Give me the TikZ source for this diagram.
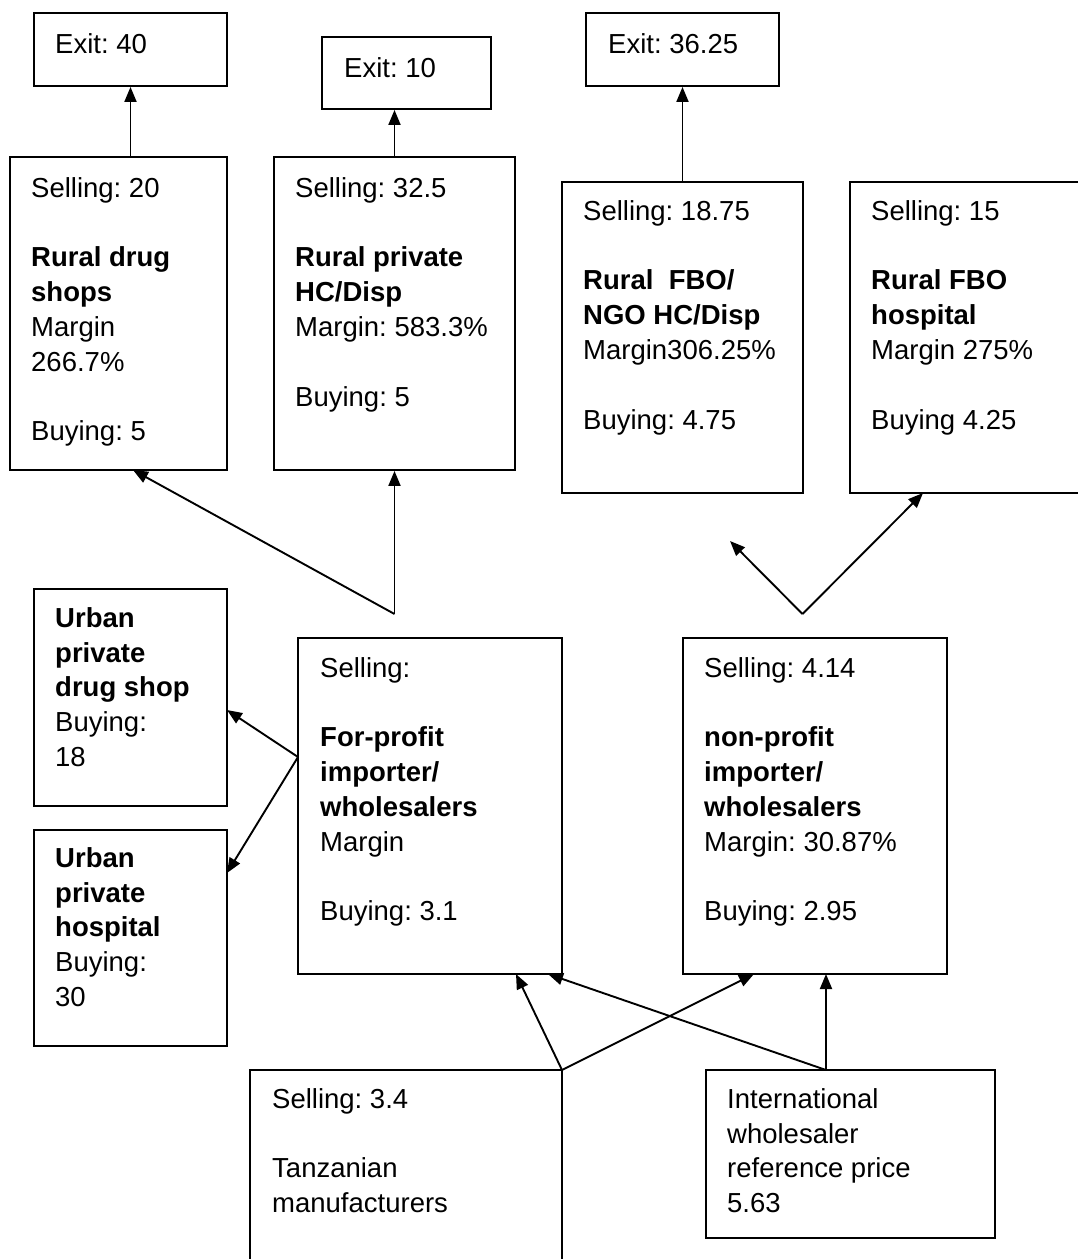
\documentclass[tikz,border=0pt]{standalone}
\usepackage{fontspec}
\setmainfont{Liberation Sans}
\usetikzlibrary{arrows.meta}
\newcommand\lgap{\\[34.8pt]}
\frenchspacing
\begin{document}
\begin{tikzpicture}[x=1pt,y=-1pt,
  boxst/.style={draw, line width=1.9pt, inner sep=0pt, minimum width=#1},
  txt/.style={anchor=north west, inner sep=0pt, align=left, yshift=24.36pt,
    font=\frenchspacing\fontsize{27.5}{34.8}\selectfont},
  conn/.style={line width=1.9pt, -{Triangle[length=15pt,width=12pt]}}]
\fill[white] (0,0) rectangle (1078,1259);
\useasboundingbox (0,0) rectangle (1078,1259);

% boxes
\node[boxst=193pt, minimum height=73pt] (e40) at (130.5,49.5) {};
\node[boxst=169pt, minimum height=72pt] (e10) at (406.5,73) {};
\node[boxst=193pt, minimum height=73pt] (e36) at (682.5,49.5) {};
\node[boxst=217pt, minimum height=313pt] (rds) at (118.5,313.5) {};
\node[boxst=241pt, minimum height=313pt] (rph) at (394.5,313.5) {};
\node[boxst=241pt, minimum height=311pt] (rfn) at (682.5,337.5) {};
\node[boxst=240pt, minimum height=311pt] (rfh) at (970,337.5) {};
\node[boxst=193pt, minimum height=217pt] (uds) at (130.5,697.5) {};
\node[boxst=193pt, minimum height=216pt] (uhs) at (130.5,938) {};
\node[boxst=264pt, minimum height=336pt] (fp) at (430,806) {};
\node[boxst=264pt, minimum height=336pt] (np) at (815,806) {};
\node[boxst=312pt, minimum height=210pt] (tz) at (406,1175) {};
\node[boxst=289pt, minimum height=168pt] (intl) at (850.5,1154) {};

% texts
\node[txt] (e40t) at (55,53) {\strut Exit: 40};
\node[txt] (e10t) at (344,77) {\strut Exit: 10};
\node[txt] (e36t) at (608,53) {\strut Exit: 36.25};
\node[txt] (rdst) at (31,197) {\strut Selling: 20\lgap\textbf{Rural drug}\\\textbf{shops}\\Margin\\266.7\%\lgap Buying: 5};
\node[txt] (rpht) at (295,197) {\strut Selling: 32.5\lgap\textbf{Rural private}\\\textbf{HC/Disp}\\Margin: 583.3\%\lgap Buying: 5};
\node[txt] (rfnt) at (583,220) {\strut Selling: 18.75\lgap\textbf{Rural\ \ FBO/}\\\textbf{NGO HC/Disp}\\Margin306.25\%\lgap Buying: 4.75};
\node[txt] (rfht) at (871,220) {\strut Selling: 15\lgap\textbf{Rural FBO}\\\textbf{hospital}\\Margin 275\%\lgap Buying 4.25};
\node[txt] (udst) at (55,627) {\strut\textbf{Urban}\\\textbf{private}\\\textbf{drug shop}\\Buying:\\18};
\node[txt] (uhst) at (55,867) {\strut\textbf{Urban}\\\textbf{private}\\\textbf{hospital}\\Buying:\\30};
\node[txt] (fpt) at (320,677) {\strut Selling:\lgap\textbf{For-profit}\\\textbf{importer/}\\\textbf{wholesalers}\\Margin\lgap Buying: 3.1};
\node[txt] (npt) at (704,677) {\strut Selling: 4.14\lgap\textbf{non-profit}\\\textbf{importer/}\\\textbf{wholesalers}\\Margin: 30.87\%\lgap Buying: 2.95};
\node[txt] (tzt) at (272,1108) {\strut Selling: 3.4\lgap Tanzanian\\manufacturers};
\node[txt] (intlt) at (727,1108) {\strut International\\wholesaler\\reference price\\5.63};

% helper coordinates
\coordinate (a1) at (394.5,614);
\coordinate (t1) at (133,470);
\coordinate (a2) at (802.5,614);
\coordinate (t2) at (730,541);
\coordinate (t3) at (923,493);
\coordinate (f0) at (298,757);
\coordinate (t4) at (227,710);
\coordinate (t5) at (227,873);
\coordinate (tzc) at (562,1070);
\coordinate (ic) at (826,1070);
\coordinate (t6) at (516,974);
\coordinate (t7) at (754,974);
\coordinate (t8) at (548,974);
\coordinate (t9) at (826,974);

% connectors
\draw[conn] (e40.south |- rds.north) -- (e40.south);
\draw[conn] (rph.north) -- (rph.north |- e10.south);
\draw[conn] (rfn.north) -- (e36.south);
\draw[conn] (a1) -- (t1);
\draw[conn] (a1) -- (rph.south);
\draw[conn] (a2) -- (t2);
\draw[conn] (a2) -- (t3);
\draw[conn] (f0) -- (t4);
\draw[conn] (f0) -- (t5);
\draw[conn] (tzc) -- (t6);
\draw[conn] (tzc) -- (t7);
\draw[conn] (ic) -- (t8);
\draw[conn] (ic) -- (t9);
\end{tikzpicture}
\end{document}
